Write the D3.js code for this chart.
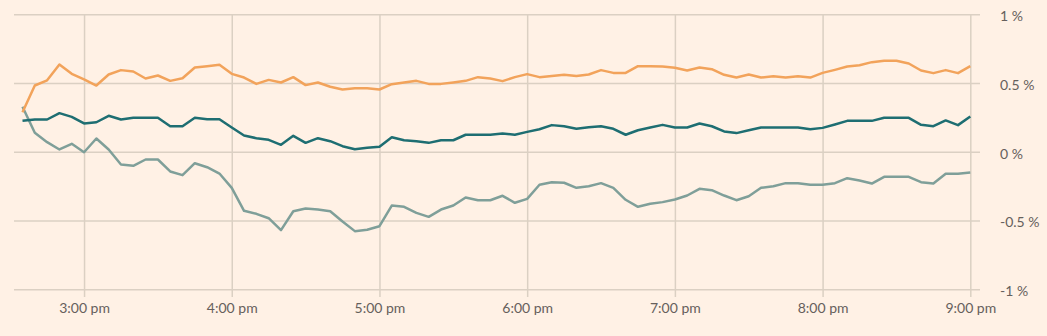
<!DOCTYPE html>
<html>
<head>
<meta charset="utf-8">
<script src="https://cdn.jsdelivr.net/npm/d3@7"></script>
<style>
  html, body { margin: 0; padding: 0; background: #fff1e5; }
  svg { display: block; }
  text { font-family: Lato, "Noto Sans", sans-serif; fill: #66605c; }
</style>
</head>
<body>
<svg id="chart" width="1047" height="336"></svg>
<script>
// 5-minute observations from 2:35 pm to 9:00 pm
const startTime = "14:35";
const endTime = "21:00";
const stepMinutes = 5;

const seriesOrange = [
  0.288, 0.482, 0.520, 0.635, 0.567, 0.526, 0.482, 0.562, 0.594, 0.584,
  0.533, 0.555, 0.516, 0.535, 0.613, 0.623, 0.633, 0.567, 0.540, 0.494,
  0.523, 0.504, 0.543, 0.485, 0.504, 0.473, 0.453, 0.463, 0.463, 0.453,
  0.492, 0.504, 0.516, 0.494, 0.494, 0.504, 0.516, 0.543, 0.533, 0.514,
  0.543, 0.565, 0.543, 0.552, 0.560, 0.552, 0.562, 0.594, 0.574, 0.574,
  0.623, 0.623, 0.620, 0.611, 0.591, 0.613, 0.601, 0.560, 0.540, 0.562,
  0.540, 0.550, 0.540, 0.550, 0.540, 0.574, 0.596, 0.620, 0.630, 0.652,
  0.662, 0.662, 0.642, 0.591, 0.572, 0.594, 0.572, 0.623
];

const seriesTeal = [
  0.225, 0.235, 0.235, 0.281, 0.254, 0.206, 0.215, 0.262, 0.235, 0.247,
  0.247, 0.247, 0.186, 0.186, 0.247, 0.237, 0.237, 0.177, 0.119, 0.099,
  0.087, 0.051, 0.116, 0.065, 0.099, 0.077, 0.041, 0.019, 0.029, 0.036,
  0.106, 0.084, 0.077, 0.065, 0.084, 0.084, 0.124, 0.124, 0.124, 0.133,
  0.124, 0.145, 0.164, 0.194, 0.186, 0.167, 0.179, 0.186, 0.167, 0.124,
  0.157, 0.177, 0.196, 0.177, 0.177, 0.206, 0.186, 0.148, 0.136, 0.157,
  0.177, 0.177, 0.177, 0.177, 0.164, 0.174, 0.199, 0.225, 0.225, 0.225,
  0.247, 0.247, 0.247, 0.196, 0.186, 0.228, 0.194, 0.257
];

const seriesGrey = [
  0.327, 0.138, 0.070, 0.017, 0.058, -0.003, 0.097, 0.017, -0.092, -0.102,
  -0.056, -0.056, -0.143, -0.170, -0.083, -0.112, -0.158, -0.262, -0.429, -0.451,
  -0.483, -0.570, -0.432, -0.412, -0.420, -0.432, -0.507, -0.577, -0.567, -0.541,
  -0.391, -0.400, -0.444, -0.473, -0.420, -0.391, -0.332, -0.352, -0.352, -0.320,
  -0.371, -0.342, -0.240, -0.221, -0.225, -0.262, -0.250, -0.228, -0.262, -0.349,
  -0.400, -0.378, -0.366, -0.347, -0.318, -0.269, -0.279, -0.318, -0.352, -0.323,
  -0.262, -0.250, -0.228, -0.228, -0.240, -0.240, -0.228, -0.192, -0.209, -0.231,
  -0.182, -0.182, -0.182, -0.221, -0.231, -0.160, -0.160, -0.151
];

const yTickValues = [1, 0.5, 0, -0.5, -1];
const yTickLabels = ["1 %", "0.5 %", "0 %", "-0.5 %", "-1 %"];
const xTickTimes = ["15:00", "16:00", "17:00", "18:00", "19:00", "20:00", "21:00"];

const seriesList = [
  { name: "grey", values: seriesGrey, color: "#7f9f99" },
  { name: "orange", values: seriesOrange, color: "#f2a35b" },
  { name: "teal", values: seriesTeal, color: "#1e6e72" }
];

const parseT = d3.timeParse("%Y-%m-%d %H:%M");
const toDate = s => parseT("2024-01-01 " + s);
const t0 = toDate(startTime);
const t1 = toDate(endTime);

const svg = d3.select("#chart");
const x = d3.scaleTime().domain([t0, t1]).range([22.5, 970.3]);
const y = d3.scaleLinear().domain([-1, 1]).range([289.3, 14.3]);

const gridColor = "#dbd0c3";

// horizontal grid + right labels
const yAxis = d3.axisRight(y)
  .tickValues(yTickValues)
  .tickSize(966)
  .tickPadding(20)
  .tickFormat((d, i) => yTickLabels[i]);
const gy = svg.append("g").attr("transform", "translate(14,0)").call(yAxis);
gy.select(".domain").remove();
gy.selectAll(".tick line").attr("stroke", gridColor).attr("stroke-width", 1.5);
gy.selectAll(".tick text")
  .attr("x", 986)
  .attr("dy", "0.45em")
  .style("font-size", "14px")
  .style("font-family", "Lato, 'Noto Sans', sans-serif")
  .attr("fill", "#66605c");

// vertical grid + bottom labels
const fmt = d3.timeFormat("%-I:%M %p");
const xAxis = d3.axisBottom(x)
  .tickValues(xTickTimes.map(toDate))
  .tickSize(297 - 14.3)
  .tickPadding(6)
  .tickFormat(d => fmt(d).toLowerCase());
const gx = svg.append("g").attr("transform", "translate(0,14.3)").call(xAxis);
gx.select(".domain").remove();
gx.selectAll(".tick line").attr("stroke", gridColor).attr("stroke-width", 1.5);
gx.selectAll(".tick text")
  .style("font-size", "14px")
  .style("font-family", "Lato, 'Noto Sans', sans-serif")
  .attr("fill", "#66605c");

// lines
const line = d3.line()
  .x((d, i) => x(d3.timeMinute.offset(t0, i * stepMinutes)))
  .y(d => y(d));

svg.append("g").selectAll("path")
  .data(seriesList)
  .join("path")
  .attr("fill", "none")
  .attr("stroke", d => d.color)
  .attr("stroke-width", 2.5)
  .attr("stroke-linejoin", "round")
  .attr("d", d => line(d.values));
</script>
</body>
</html>
